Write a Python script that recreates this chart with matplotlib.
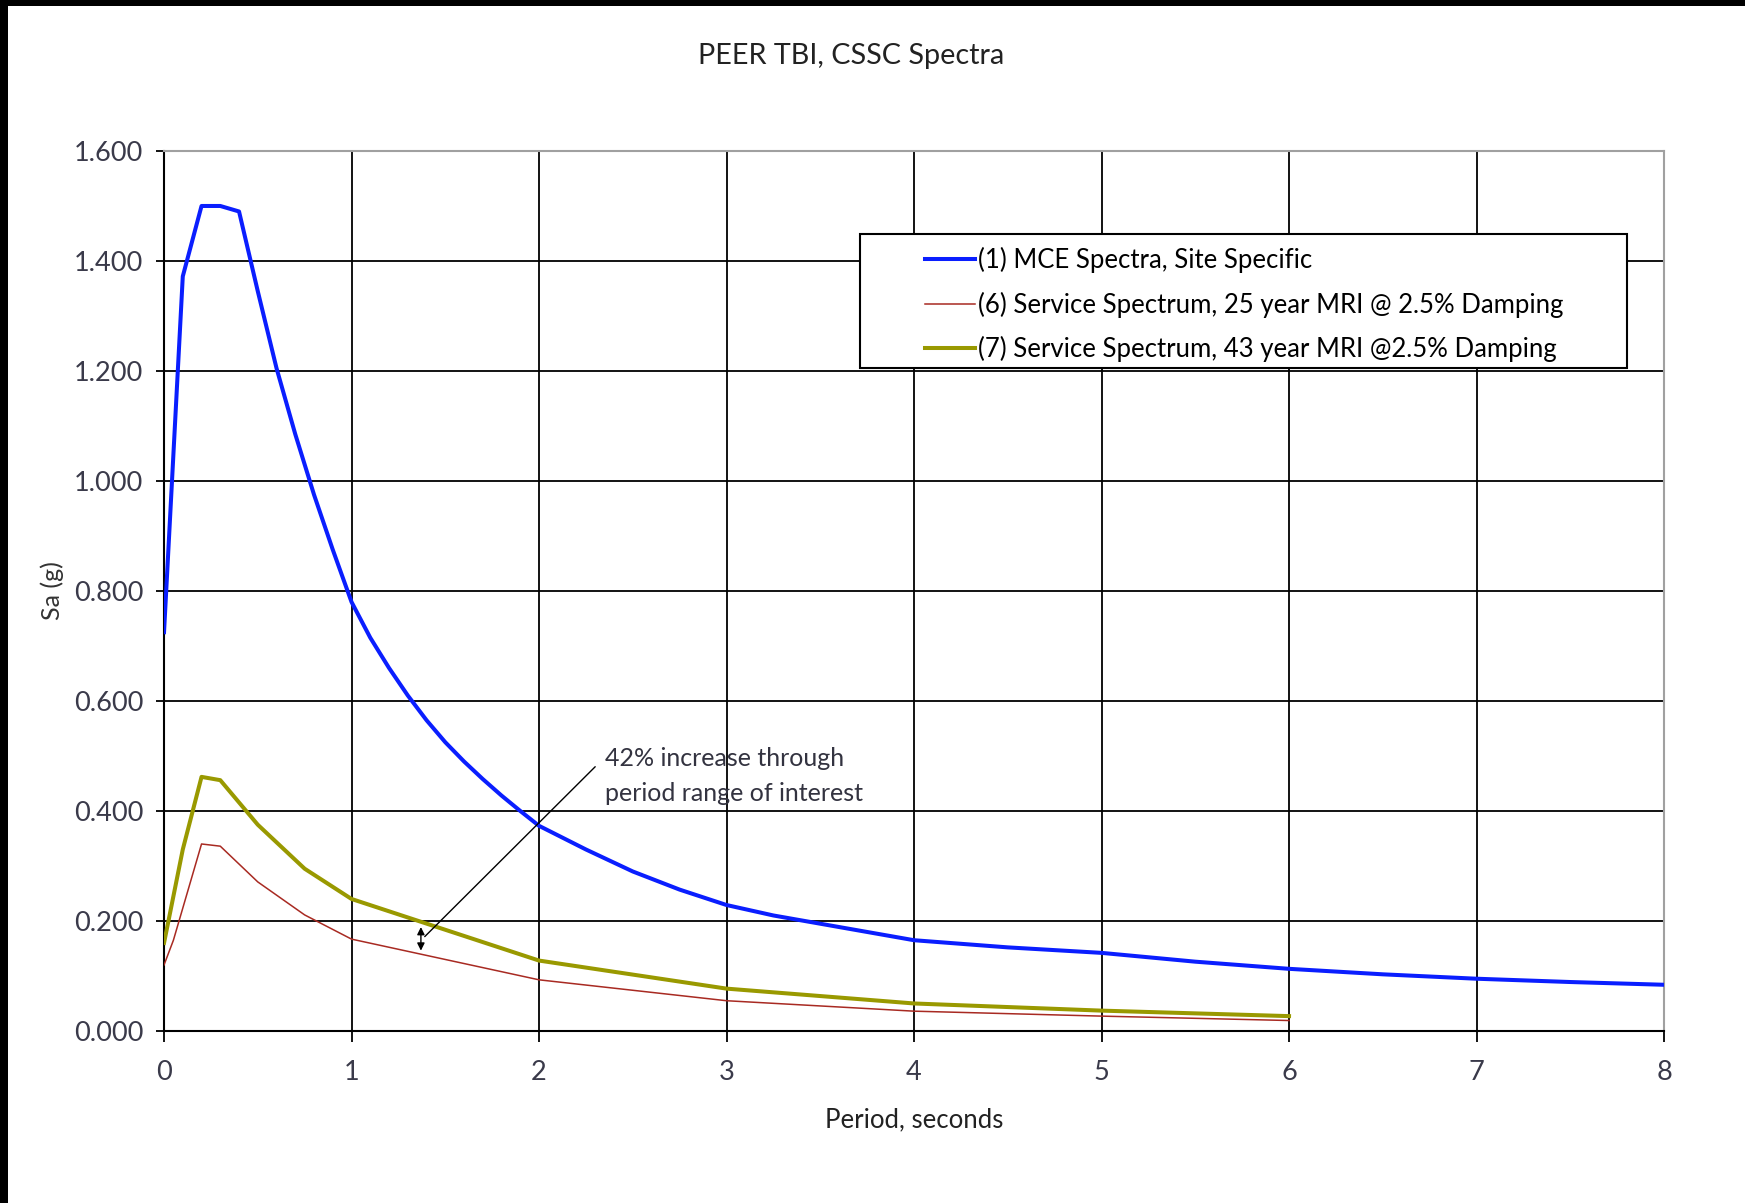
import matplotlib
matplotlib.use("Agg")
import matplotlib.pyplot as plt
from matplotlib.patches import Rectangle

plt.rcParams['font.family'] = ['Lato', 'DejaVu Sans']

# (1) MCE spectra, site specific
mce_T = [0.0, 0.1, 0.2, 0.3, 0.4, 0.5, 0.6, 0.7, 0.8, 0.9, 1.0,
         1.1, 1.2, 1.3, 1.4, 1.5, 1.6, 1.7, 1.8, 1.9, 2.0,
         2.25, 2.5, 2.75, 3.0, 3.25, 3.5, 3.75, 4.0, 4.5, 5.0, 5.5, 6.0,
         6.5, 7.0, 7.5, 8.0]
mce_Sa = [0.725, 1.372, 1.50, 1.50, 1.49, 1.345, 1.205, 1.085, 0.975, 0.875, 0.78,
          0.715, 0.66, 0.61, 0.565, 0.525, 0.49, 0.458, 0.428, 0.40, 0.373,
          0.33, 0.29, 0.257, 0.229, 0.21, 0.195, 0.18, 0.165, 0.152, 0.142, 0.126, 0.113,
          0.103, 0.095, 0.089, 0.084]

# (6) service spectrum, 25 year MRI
s25_T = [0.0, 0.05, 0.2, 0.3, 0.5, 0.75, 1.0, 2.0, 3.0, 4.0, 5.0, 6.0]
s25_Sa = [0.12, 0.165, 0.34, 0.336, 0.271, 0.211, 0.167, 0.093, 0.055, 0.036, 0.027, 0.019]

# (7) service spectrum, 43 year MRI
s43_T = [0.0, 0.1, 0.2, 0.3, 0.5, 0.75, 1.0, 2.0, 3.0, 4.0, 5.0, 6.0]
s43_Sa = [0.16, 0.33, 0.462, 0.456, 0.375, 0.295, 0.24, 0.128, 0.077, 0.05, 0.037, 0.027]

labels = ['(1) MCE Spectra, Site Specific',
          '(6) Service Spectrum, 25 year MRI @ 2.5% Damping',
          '(7) Service Spectrum, 43 year MRI @2.5% Damping']

x_ticks = [0, 1, 2, 3, 4, 5, 6, 7, 8]
y_ticks = [0.0, 0.2, 0.4, 0.6, 0.8, 1.0, 1.2, 1.4, 1.6]

fig = plt.figure(figsize=(17.45, 12.03), dpi=100)
ax = fig.add_axes([0.094, 0.143, 0.8596, 0.7315])

ax.plot(mce_T, mce_Sa, color='#0a1eff', lw=2.9, label=labels[0], zorder=3)
ax.plot(s25_T, s25_Sa, color='#a82a22', lw=1.1, label=labels[1], zorder=3)
ax.plot(s43_T, s43_Sa, color='#999900', lw=2.9, label=labels[2], zorder=3)

ax.set_xlim(0, 8)
ax.set_ylim(0, 1.6)
ax.set_xticks(x_ticks)
ax.set_yticks(y_ticks)
ax.set_yticklabels([f'{v:.3f}' for v in y_ticks])
ax.grid(True, color='black', lw=1.3, zorder=1)
ax.set_axisbelow(True)

for s in ['top', 'right']:
    ax.spines[s].set_color('#a0a0a0')
    ax.spines[s].set_linewidth(1.5)
for s in ['left', 'bottom']:
    ax.spines[s].set_color('black')
    ax.spines[s].set_linewidth(1.5)

ax.tick_params(axis='y', direction='out', length=6, width=1.3, pad=9,
               labelsize=19.5, labelcolor='#3a3a4a')
ax.tick_params(axis='x', direction='out', length=8, width=1.3, pad=13,
               labelsize=19.5, labelcolor='#3a3a4a')

ax.set_xlabel('Period, seconds', fontsize=18.5, color='#222222')
ax.xaxis.set_label_coords(0.5, -0.087)
ax.set_ylabel('Sa (g)', fontsize=18, color='#333333')
ax.yaxis.set_label_coords(-0.067, 0.5)

fig.text(851 / 1745, 1 - 56 / 1203, 'PEER TBI, CSSC Spectra', ha='center', va='center',
         fontsize=20.7, color='#222222')

# legend box
ax.add_patch(Rectangle((0.464, 0.753), 0.511, 0.153, transform=ax.transAxes,
                       facecolor='white', edgecolor='black', lw=1.5, zorder=4))
leg = ax.legend(loc='upper left', bbox_to_anchor=(0.492, 0.917), frameon=False,
                fontsize=18.5, handlelength=1.95, handletextpad=0.1, labelspacing=0.72)
leg.set_zorder(5)

# annotation
ax.annotate('', xy=(1.37, 0.194), xytext=(1.37, 0.141),
            arrowprops=dict(arrowstyle='<|-|>', color='black', lw=1.0, mutation_scale=11),
            zorder=6)
ax.annotate('', xy=(1.38, 0.168), xytext=(2.31, 0.484),
            arrowprops=dict(arrowstyle='-', color='black', lw=1.0), zorder=6)
ax.text(2.35, 0.516, '42% increase through\nperiod range of interest', ha='left', va='top',
        fontsize=18, color='#333340', linespacing=1.6, zorder=6)

# black strips at the top and left edges of the screenshot
fig.patches.append(Rectangle((0, 1 - 6 / 1203), 1, 6 / 1203, transform=fig.transFigure,
                             facecolor='black', edgecolor='none'))
fig.patches.append(Rectangle((0, 0), 8 / 1745, 1, transform=fig.transFigure,
                             facecolor='black', edgecolor='none'))

fig.savefig('out.png', dpi=100)
